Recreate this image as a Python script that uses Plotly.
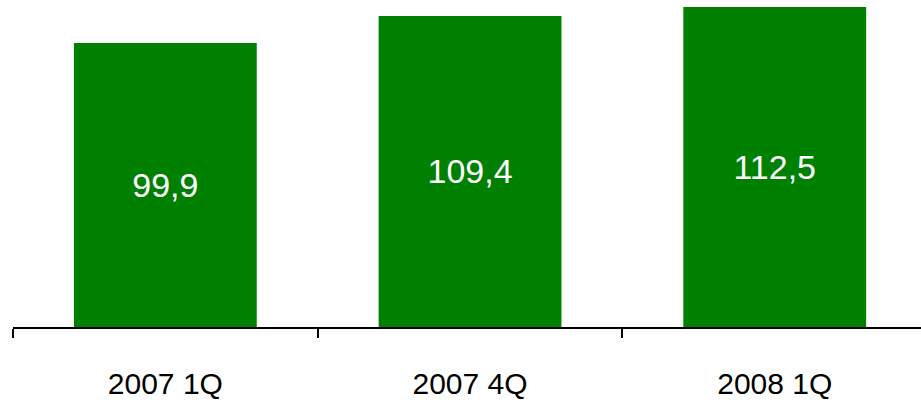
import plotly.graph_objects as go

categories = ["2007 1Q", "2007 4Q", "2008 1Q"]
values = [99.9, 109.4, 112.5]

fig = go.Figure(
    go.Bar(
        x=categories,
        y=values,
        width=0.6,
        marker=dict(color="#008000", line=dict(width=0)),
        texttemplate="%{y:.1f}",
        textposition="inside",
        insidetextanchor="middle",
        textangle=0,
        textfont=dict(family="Liberation Sans, Arial, sans-serif", size=34, color="white"),
        hoverinfo="skip",
    )
)

fig.update_layout(
    width=921,
    height=402,
    margin=dict(l=13, r=0, t=0, b=75),
    paper_bgcolor="white",
    plot_bgcolor="white",
    separators=",.",
    showlegend=False,
    font=dict(family="Liberation Sans, Arial, sans-serif", color="black"),
    xaxis=dict(
        type="category",
        range=[-0.5, 2.48],
        showline=True,
        linecolor="black",
        linewidth=2,
        ticks="outside",
        tickson="boundaries",
        ticklen=9,
        tickwidth=2,
        tickcolor="black",
        tickfont=dict(size=30, color="black"),
        ticklabelstandoff=29,
        showgrid=False,
        zeroline=False,
    ),
    yaxis=dict(
        range=[0, 115],
        visible=False,
        showgrid=False,
        zeroline=False,
    ),
)

fig.write_html("out.html")
